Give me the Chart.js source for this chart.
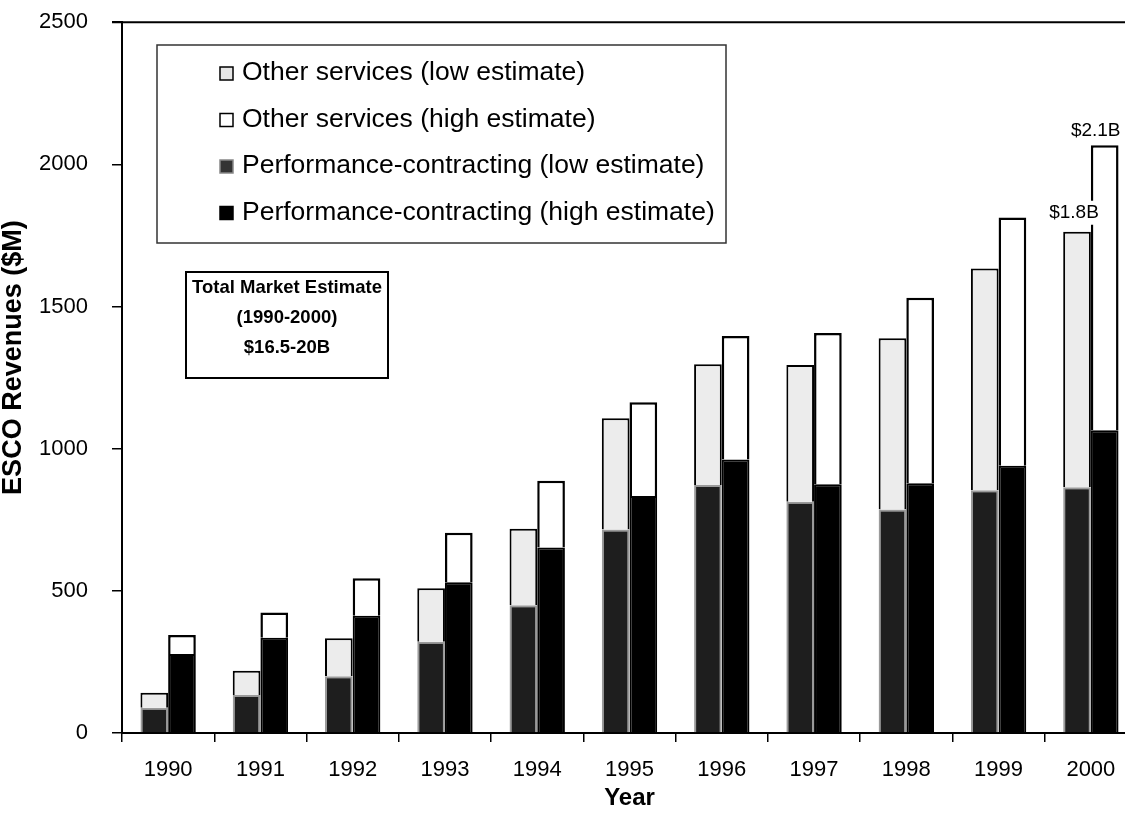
<!DOCTYPE html>
<html lang="en">
<head>
  <meta charset="UTF-8">
  <title>ESCO Revenues</title>
  <script src="https://cdn.jsdelivr.net/npm/chart.js"></script>
  <style>
    body {
      margin: 0;
      background: #ffffff;
      overflow: hidden;
    }

    /* shifted up a bit: chart.js keeps ~36px above the plot for the top tick label */
    .chart-box {
      position: absolute;
      left: 0;
      top: -15px;
      width: 1140px;
      height: 831px;
    }
  </style>
</head>
<body>

<div class="chart-box">
  <canvas id="graficoEsco" width="1140" height="831"></canvas>
</div>

<script>
  const anos = ['1990', '1991', '1992', '1993', '1994', '1995', '1996', '1997', '1998', '1999', '2000'];

  // segment values in $M
  const pcBaixo = [89, 134, 200, 321, 449, 716, 872, 813, 786, 854, 864];
  const outrosBaixo = [53, 85, 133, 188, 269, 391, 425, 481, 602, 780, 899];
  const pcAlto = [278, 335, 412, 530, 652, 834, 962, 875, 878, 940, 1065];
  const outrosAlto = [67, 89, 132, 174, 235, 329, 434, 532, 653, 873, 1002];

  const legendaNomes = [
    'Other services (low estimate)',
    'Other services (high estimate)',
    'Performance-contracting (low estimate)',
    'Performance-contracting (high estimate)'
  ];
  const caixaTexto = ['Total Market Estimate', '(1990-2000)', '$16.5-20B'];
  const rotulos2000 = ['$1.8B', '$2.1B'];
  const tituloY = 'ESCO Revenues ($M)';

  const fonte = '"Liberation Sans", Arial, sans-serif';
  const OFF = 15; // canvas offset from the page top

  const extras = {
    id: 'extras',
    afterDraw(chart) {
      const ctx = chart.ctx;
      const area = chart.chartArea;
      ctx.save();

      // top frame line
      ctx.strokeStyle = '#000';
      ctx.lineWidth = 2;
      ctx.beginPath();
      ctx.moveTo(area.left - 10, area.top);
      ctx.lineTo(chart.width, area.top);
      ctx.stroke();

      // y title
      ctx.save();
      ctx.translate(21, (area.top + area.bottom) / 2 - 20);
      ctx.rotate(-Math.PI / 2);
      ctx.font = 'bold 27px ' + fonte;
      ctx.textAlign = 'center';
      ctx.textBaseline = 'alphabetic';
      ctx.fillStyle = '#000';
      ctx.fillText(tituloY, 0, 0);
      ctx.restore();

      // legend box
      ctx.lineWidth = 1.5;
      ctx.strokeStyle = '#333';
      ctx.strokeRect(157, 45 + OFF, 569, 198);
      const cores = [['#e6e6e6', '#000'], ['#fff', '#000'], ['#333', '#888'], ['#000', '#000']];
      ctx.font = '26.5px ' + fonte;
      ctx.textBaseline = 'middle';
      ctx.textAlign = 'left';
      legendaNomes.forEach((nome, i) => {
        const y = 73 + OFF + i * 46.5;
        ctx.fillStyle = cores[i][0];
        ctx.fillRect(220, y - 6, 13, 13);
        ctx.strokeStyle = cores[i][1];
        ctx.lineWidth = 1.5;
        ctx.strokeRect(220, y - 6, 13, 13);
        ctx.fillStyle = '#000';
        ctx.fillText(nome, 242, y);
      });

      // total market box
      ctx.lineWidth = 2;
      ctx.strokeStyle = '#000';
      ctx.strokeRect(186, 272 + OFF, 202, 106);
      ctx.font = 'bold 18.5px ' + fonte;
      ctx.textAlign = 'center';
      caixaTexto.forEach((linha, i) => {
        ctx.fillText(linha, 287, 288 + OFF + i * 30);
      });

      // 2000 labels above the bars
      const ultimo = anos.length - 1;
      const barBaixo = chart.getDatasetMeta(1).data[ultimo];
      const barAlto = chart.getDatasetMeta(3).data[ultimo];
      ctx.font = '19px ' + fonte;
      [[barBaixo, rotulos2000[0], -3, -19], [barAlto, rotulos2000[1], -9, -15]].forEach(([bar, txt, dx, dy]) => {
        const w = ctx.measureText(txt).width;
        const x = bar.x + dx;
        const y = bar.y + dy;
        ctx.fillStyle = '#fff';
        ctx.fillRect(x - w / 2 - 2, y - 12, w + 4, 24);
        ctx.fillStyle = '#000';
        ctx.fillText(txt, x, y);
      });

      ctx.restore();
    }
  };

  const ctxEsco = document.getElementById('graficoEsco').getContext('2d');
  new Chart(ctxEsco, {
    type: 'bar',
    data: {
      labels: anos,
      datasets: [
        {
          label: legendaNomes[2],
          data: pcBaixo,
          stack: 'baixo',
          backgroundColor: '#1e1e1e',
          borderColor: '#9a9a9a',
          borderWidth: 2
        },
        {
          label: legendaNomes[0],
          data: outrosBaixo,
          stack: 'baixo',
          backgroundColor: '#ececec',
          borderColor: '#000',
          borderWidth: 2
        },
        {
          label: legendaNomes[3],
          data: pcAlto,
          stack: 'alto',
          backgroundColor: '#000',
          borderColor: '#000',
          borderWidth: 2
        },
        {
          label: legendaNomes[1],
          data: outrosAlto,
          stack: 'alto',
          backgroundColor: '#fff',
          borderColor: '#000',
          borderWidth: 2.5
        }
      ]
    },
    options: {
      responsive: false,
      animation: false,
      categoryPercentage: 0.6,
      barPercentage: 1.0,
      layout: {
        padding: { top: 6, right: 3, left: 0, bottom: 0 }
      },
      plugins: {
        legend: { display: false },
        tooltip: { enabled: false }
      },
      scales: {
        x: {
          stacked: true,
          offset: true,
          grid: {
            offset: true,
            drawOnChartArea: false,
            drawTicks: true,
            tickLength: 9,
            color: '#000',
            lineWidth: 1.5
          },
          border: { display: true, color: '#000', width: 2 },
          ticks: {
            color: '#000',
            font: { size: 22, family: fonte },
            padding: 15,
            maxRotation: 0
          },
          title: {
            display: true,
            text: 'Year',
            color: '#000',
            font: { size: 24, weight: 'bold', family: fonte },
            padding: { top: 0, bottom: 3 }
          },
          afterFit(scale) {
            scale.height = 83;
          }
        },
        y: {
          stacked: true,
          min: 0,
          max: 2500,
          ticks: {
            stepSize: 500,
            color: '#000',
            font: { size: 22, family: fonte },
            padding: 24,
            callback: (v) => String(v)
          },
          grid: {
            drawOnChartArea: false,
            drawTicks: true,
            tickLength: 10,
            color: '#000',
            lineWidth: 1.5
          },
          border: { display: true, color: '#000', width: 2 },
          afterFit(scale) {
            scale.width = 122;
          }
        }
      }
    },
    plugins: [extras]
  });
</script>

</body>
</html>
